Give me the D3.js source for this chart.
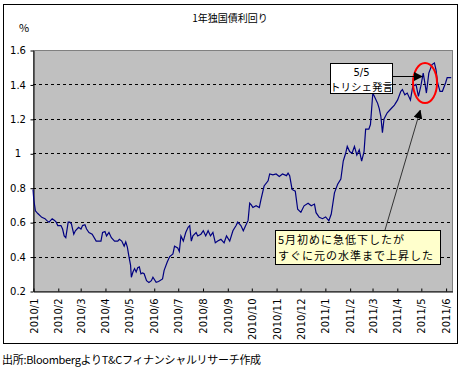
<!DOCTYPE html>
<html>
<head>
<meta charset="utf-8">
<script src="https://cdn.jsdelivr.net/npm/d3@7"></script>
<style>
  body { margin: 0; background: #fff; }
  svg text { font-family: "Noto Sans CJK JP", "DejaVu Sans", sans-serif; fill: #000; }
</style>
</head>
<body>
<svg id="chart" width="461" height="372"></svg>
<script>
// 1年独国債利回り (%)
const dates = [
  "2010-01-01","2010-01-02","2010-01-04","2010-01-07","2010-01-12","2010-01-16","2010-01-18","2010-01-21","2010-01-25","2010-01-28",
  "2010-01-30","2010-02-01","2010-02-05","2010-02-07","2010-02-09","2010-02-11","2010-02-14","2010-02-16","2010-02-18","2010-02-21",
  "2010-02-23","2010-02-27","2010-03-02","2010-03-04","2010-03-07","2010-03-09","2010-03-12","2010-03-16","2010-03-21","2010-03-27",
  "2010-03-29","2010-04-01","2010-04-03","2010-04-06","2010-04-09","2010-04-13","2010-04-17","2010-04-19","2010-04-22","2010-04-25",
  "2010-04-27","2010-04-29","2010-05-01","2010-05-03","2010-05-04","2010-05-06","2010-05-08","2010-05-10","2010-05-12","2010-05-14",
  "2010-05-16","2010-05-18","2010-05-20","2010-05-23","2010-05-26","2010-05-29","2010-05-31","2010-06-04","2010-06-07","2010-06-12",
  "2010-06-14","2010-06-18","2010-06-21","2010-06-25","2010-06-27","2010-07-01","2010-07-03","2010-07-05","2010-07-08","2010-07-11",
  "2010-07-14","2010-07-16","2010-07-18","2010-07-20","2010-07-24","2010-07-26","2010-07-30","2010-08-02","2010-08-05","2010-08-08",
  "2010-08-11","2010-08-14","2010-08-17","2010-08-20","2010-08-24","2010-08-28","2010-08-31","2010-09-04","2010-09-08","2010-09-12",
  "2010-09-14","2010-09-18","2010-09-21","2010-09-25","2010-09-27","2010-09-29","2010-10-01","2010-10-03","2010-10-07","2010-10-11",
  "2010-10-13","2010-10-17","2010-10-22","2010-10-24","2010-10-28","2010-11-01","2010-11-05","2010-11-09","2010-11-14","2010-11-16",
  "2010-11-18","2010-11-21","2010-11-25","2010-11-28","2010-12-02","2010-12-06","2010-12-11","2010-12-15","2010-12-19","2010-12-21",
  "2010-12-25","2010-12-29","2011-01-02","2011-01-06","2011-01-09","2011-01-13","2011-01-17","2011-01-21","2011-01-24","2011-01-27",
  "2011-01-29","2011-02-01","2011-02-04","2011-02-07","2011-02-10","2011-02-13","2011-02-16","2011-02-19","2011-02-21","2011-02-25",
  "2011-02-27","2011-03-02","2011-03-04","2011-03-08","2011-03-10","2011-03-12","2011-03-14","2011-03-16","2011-03-20","2011-03-25",
  "2011-03-29","2011-04-02","2011-04-06","2011-04-08","2011-04-11","2011-04-14","2011-04-18","2011-04-21","2011-04-25","2011-04-28",
  "2011-05-01","2011-05-04","2011-05-06","2011-05-08","2011-05-11","2011-05-15","2011-05-18","2011-05-20","2011-05-22","2011-05-25",
  "2011-05-28","2011-06-01","2011-06-03","2011-06-08"
];
const yields = [
  0.79,0.73,0.666,0.65,0.628,0.62,0.61,0.60,0.62,0.61,
  0.60,0.58,0.58,0.56,0.52,0.51,0.60,0.60,0.59,0.53,
  0.55,0.57,0.56,0.58,0.585,0.56,0.54,0.53,0.49,0.49,
  0.54,0.545,0.52,0.54,0.51,0.49,0.49,0.50,0.49,0.46,
  0.485,0.455,0.40,0.35,0.28,0.31,0.33,0.31,0.335,0.34,
  0.30,0.305,0.30,0.26,0.25,0.26,0.28,0.25,0.255,0.27,
  0.32,0.37,0.40,0.415,0.46,0.45,0.43,0.52,0.49,0.54,
  0.57,0.58,0.49,0.52,0.54,0.52,0.53,0.55,0.52,0.55,
  0.52,0.54,0.48,0.49,0.50,0.48,0.52,0.49,0.55,0.58,
  0.60,0.58,0.55,0.59,0.61,0.71,0.70,0.685,0.695,0.685,
  0.73,0.81,0.84,0.88,0.875,0.88,0.865,0.88,0.87,0.885,
  0.87,0.79,0.78,0.675,0.657,0.695,0.71,0.695,0.705,0.655,
  0.628,0.62,0.63,0.608,0.647,0.77,0.82,0.85,0.955,1.0,
  1.04,1.01,1.0,1.04,0.99,1.02,0.955,1.01,1.14,1.14,
  1.167,1.35,1.33,1.29,1.26,1.215,1.12,1.2,1.235,1.26,
  1.28,1.31,1.36,1.37,1.34,1.35,1.31,1.39,1.40,1.33,
  1.39,1.466,1.41,1.35,1.466,1.515,1.525,1.485,1.41,1.36,
  1.36,1.41,1.44,1.44
];
const yTicks = [0.2, 0.4, 0.6, 0.8, 1, 1.2, 1.4, 1.6];
const gridTicks = [0.4, 0.6, 0.8, 1, 1.2, 1.4];
const xStart = "2010-01-01", xEnd = "2011-06-09";

const title = "1年独国債利回り";
const unit = "%";
const source = "出所:BloombergよりT&Cフィナンシャルリサーチ作成";
const note1 = ["5/5", "トリシェ発言"];
const note2 = ["5月初めに急低下したが", "すぐに元の水準まで上昇した"];
const note1Date = "2011-05-05";
const note2Date = "2011-05-04", note2Val = 1.33;

const parse = d3.timeParse("%Y-%m-%d");
const data = dates.map((d, i) => ({date: parse(d), v: yields[i]}));

const svg = d3.select("#chart");
const pl = 33, pr = 452, pt = 50, pb = 291;

const x = d3.scaleTime().domain([parse(xStart), parse(xEnd)]).range([pl, pr]);
const y = d3.scaleLinear().domain([0.2, 1.6]).range([pb, pt]);

// outer frame
svg.append("rect")
  .attr("x", 3.5).attr("y", 4.5).attr("width", 454).attr("height", 339)
  .attr("fill", "#fff").attr("stroke", "#000");

// plot background
svg.append("rect")
  .attr("x", pl + 0.5).attr("y", pt + 0.5).attr("width", pr - pl).attr("height", pb - pt)
  .attr("fill", "#c0c0c0").attr("stroke", "#808080");

// dashed grid
svg.append("g").selectAll("line").data(gridTicks).join("line")
  .attr("x1", pl).attr("x2", pr)
  .attr("y1", d => Math.round(y(d)) + 0.5).attr("y2", d => Math.round(y(d)) + 0.5)
  .attr("stroke", "#000").attr("stroke-dasharray", "3,3");

// y axis
const yAxis = svg.append("g").attr("transform", `translate(${pl + 0.5},0.5)`)
  .call(d3.axisLeft(y).tickValues(yTicks).tickSize(3).tickSizeOuter(0).tickFormat(d3.format("")));
yAxis.select(".domain").attr("stroke", "#000");
yAxis.selectAll("text").attr("x", -15.5).attr("text-anchor", "middle")
  .style("font-size", "10px").style("font-family", "'DejaVu Sans', sans-serif");

// x axis
const monthTicks = d3.timeMonth.range(parse("2010-01-01"), parse("2011-06-02"));
const xAxis = svg.append("g").attr("transform", `translate(0.5,${pb + 0.5})`)
  .call(d3.axisBottom(x).tickValues(monthTicks).tickSize(-3).tickSizeOuter(0).tickFormat(d3.timeFormat("%Y/%-m")));
xAxis.select(".domain").attr("stroke", "#000");
xAxis.selectAll("text")
  .attr("transform", "rotate(-90)")
  .attr("text-anchor", "end")
  .attr("x", -7).attr("y", 0).attr("dy", "0.35em")
  .style("font-size", "10px").style("font-family", "'DejaVu Sans', sans-serif");

// line
svg.append("path").datum(data)
  .attr("fill", "none").attr("stroke", "#000080").attr("stroke-width", 1.2)
  .attr("d", d3.line().x(d => x(d.date)).y(d => y(d.v)));

// titles
svg.append("text").attr("x", 230).attr("y", 22).attr("text-anchor", "middle")
  .style("font-size", "10px").text(title);
svg.append("text").attr("x", 19).attr("y", 32).style("font-size", "11px").text(unit);
svg.append("text").attr("x", 2).attr("y", 364).style("font-size", "11px")
  .style("letter-spacing", "-0.3px").text(source);

// arrow marker
svg.append("defs").append("marker").attr("id", "arr").attr("viewBox", "0 0 10 10")
  .attr("refX", 9).attr("refY", 5).attr("markerWidth", 9).attr("markerHeight", 9)
  .attr("orient", "auto").attr("markerUnits", "userSpaceOnUse")
  .append("path").attr("d", "M0,0L10,5L0,10z").attr("fill", "#000");

// red ellipse
svg.append("ellipse").attr("cx", x(parse(note1Date)) + 1).attr("cy", 83)
  .attr("rx", 12).attr("ry", 20)
  .attr("fill", "none").attr("stroke", "#ff0000").attr("stroke-width", 2);

// note 1 box
svg.append("line").attr("x1", 392).attr("y1", 76.5)
  .attr("x2", x(parse(note1Date)) - 2).attr("y2", 76.5)
  .attr("stroke", "#000").attr("marker-end", "url(#arr)");
svg.append("rect").attr("x", 330.5).attr("y", 63.5).attr("width", 62).attr("height", 30)
  .attr("fill", "#fff").attr("stroke", "#000");
svg.append("text").attr("x", 361.5).attr("y", 75.5).attr("text-anchor", "middle")
  .style("font-size", "10px").style("font-family", "'DejaVu Sans', sans-serif").text(note1[0]);
svg.append("text").attr("x", 361.5).attr("y", 90.5).attr("text-anchor", "middle")
  .style("font-size", "10.5px").text(note1[1]);

// note 2 box
svg.append("line").attr("x1", 385).attr("y1", 230)
  .attr("x2", x(parse(note2Date)) - 3).attr("y2", y(note2Val) + 14)
  .attr("stroke", "#333").attr("marker-end", "url(#arr)");
svg.append("rect").attr("x", 275.5).attr("y", 230.5).attr("width", 165).attr("height", 34)
  .attr("fill", "#ffffcc").attr("stroke", "#000");
svg.append("text").attr("x", 278).attr("y", 244)
  .style("font-size", "11px").style("letter-spacing", "1px").text(note2[0]);
svg.append("text").attr("x", 278).attr("y", 260)
  .style("font-size", "11px").style("letter-spacing", "1px").text(note2[1]);
</script>
</body>
</html>
